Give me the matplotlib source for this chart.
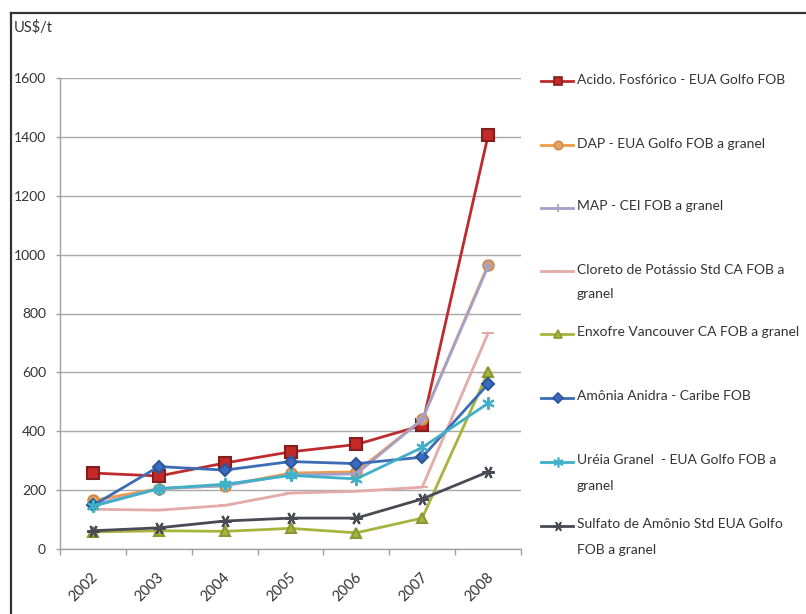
import matplotlib
matplotlib.use("Agg")
import matplotlib.pyplot as plt
import matplotlib.transforms as mtransforms
from matplotlib.lines import Line2D

plt.rcParams['font.family'] = ['Lato', 'DejaVu Sans']

years = ["2002", "2003", "2004", "2005", "2006", "2007", "2008"]

acido_fosforico = [258, 248, 292, 330, 355, 420, 1405]
dap = [165, 205, 215, 258, 262, 440, 965]
map_cei = [150, 205, 215, 252, 255, 440, 960]
cloreto_potassio = [135, 132, 148, 190, 196, 210, 733]
enxofre = [58, 62, 60, 70, 55, 105, 600]
amonia_anidra = [148, 280, 268, 297, 290, 312, 560]
ureia = [145, 205, 220, 250, 238, 345, 495]
sulfato_amonio = [62, 72, 95, 105, 105, 170, 262]

labels = [
    "Acido. Fosfórico - EUA Golfo FOB",
    "DAP - EUA Golfo FOB a granel",
    "MAP - CEI FOB a granel",
    "Cloreto de Potássio Std CA FOB a\ngranel",
    "Enxofre Vancouver CA FOB a granel",
    "Amônia Anidra - Caribe FOB",
    "Uréia Granel  - EUA Golfo FOB a\ngranel",
    "Sulfato de Amônio Std EUA Golfo\nFOB a granel",
]

series = [acido_fosforico, dap, map_cei, cloreto_potassio,
          enxofre, amonia_anidra, ureia, sulfato_amonio]

styles = [
    dict(color="#BE2B2E", marker="s", ms=8, mfc="#C62828", mec="#7F1F1F"),
    dict(color="#F09A48", marker="o", ms=7.5, mfc="#E3A467", mec="#D08A48"),
    dict(color="#A3A0CC", marker="+", ms=8, mfc="#A3A0CC", mec="#A3A0CC"),
    dict(color="#E3AAA8", marker="_", ms=8, mfc="#E3AAA8", mec="#E3AAA8"),
    dict(color="#A6B43E", marker="^", ms=7.5, mfc="#A6B43E", mec="#8A9830"),
    dict(color="#3C6CB4", marker="D", ms=6.5, mfc="#3A6BC0", mec="#2E559A"),
    dict(color="#3FB0C8", marker=(6, 2, 0), ms=9, mfc="#3FB0C8", mec="#3FB0C8"),
    dict(color="#4A4A55", marker=(6, 2, 90), ms=9, mfc="#4A4A55", mec="#4A4A55"),
]

W, H = 806, 614
fig = plt.figure(figsize=(W / 100, H / 100), dpi=100)
fig.patch.set_facecolor("white")

# outer frame (top and left edges)
fig.add_artist(Line2D([11 / W, 1.0], [1 - 13 / H, 1 - 13 / H], color="#333333", lw=1.6,
                      transform=fig.transFigure))
fig.add_artist(Line2D([11 / W, 11 / W], [0.0, 1 - 13 / H], color="#333333", lw=1.6,
                      transform=fig.transFigure))

ax_l, ax_r, ax_t, ax_b = 60, 521, 78, 549
ax = fig.add_axes([ax_l / W, 1 - ax_b / H, (ax_r - ax_l) / W, (ax_b - ax_t) / H])

x = list(range(len(years)))
for i, (vals, st) in enumerate(zip(series, styles)):
    ax.plot(x, vals, color=st["color"], lw=2.0, marker=st["marker"], ms=st["ms"],
            mfc=st["mfc"], mec=st["mec"], mew=1.5, zorder=3 + i, solid_joinstyle="round")

ax.set_xlim(-0.5, len(years) - 0.5)
ax.set_ylim(0, 1600)
ax.set_yticks(range(0, 1601, 200))
ax.yaxis.grid(True, color="#A8A8A8", lw=1.0)
ax.set_axisbelow(True)

for s in ["top", "right"]:
    ax.spines[s].set_visible(False)
for s in ["left", "bottom"]:
    ax.spines[s].set_color("#A0A0A0")
    ax.spines[s].set_linewidth(1.0)

ax.tick_params(axis="y", length=3, width=1, color="#A0A0A0", pad=7,
               labelsize=10, labelcolor="#333333")

# category labels at the centres, tick marks at the boundaries
ax.set_xticks(x)
ax.set_xticklabels(years, rotation=45, ha="right", va="center", rotation_mode="anchor",
                   fontsize=10.5, color="#333333")
ax.tick_params(axis="x", which="major", length=0, pad=19)
ax.set_xticks([i - 0.5 for i in range(len(years) + 1)], minor=True)
ax.tick_params(axis="x", which="minor", length=4, width=1, color="#A0A0A0")
offset = mtransforms.ScaledTranslation(3 / 100, 0, fig.dpi_scale_trans)
for lbl in ax.get_xticklabels():
    lbl.set_transform(lbl.get_transform() + offset)

fig.text(14 / W, 1 - 27 / H, "US$/t", fontsize=10.5, color="#333333", va="center", ha="left")

# legend drawn entry by entry
row_y = [81, 145, 208, 271, 334, 398, 462, 526]
for lab, st, yy in zip(labels, styles, row_y):
    yf = 1 - yy / H
    fig.add_artist(Line2D([541 / W, 573 / W], [yf, yf], color=st["color"], lw=2.0,
                          transform=fig.transFigure))
    fig.add_artist(Line2D([558 / W], [yf], color=st["color"], marker=st["marker"],
                          ms=st["ms"] * 0.8, mfc=st["mfc"], mec=st["mec"], mew=1.2,
                          transform=fig.transFigure))
    fig.text(577 / W, yf, lab, fontsize=10, color="#333333", va="top", ha="left",
             linespacing=2.3,
             transform=fig.transFigure + mtransforms.ScaledTranslation(0, 7.5 / 100, fig.dpi_scale_trans))

fig.savefig("out.png", dpi=100)
